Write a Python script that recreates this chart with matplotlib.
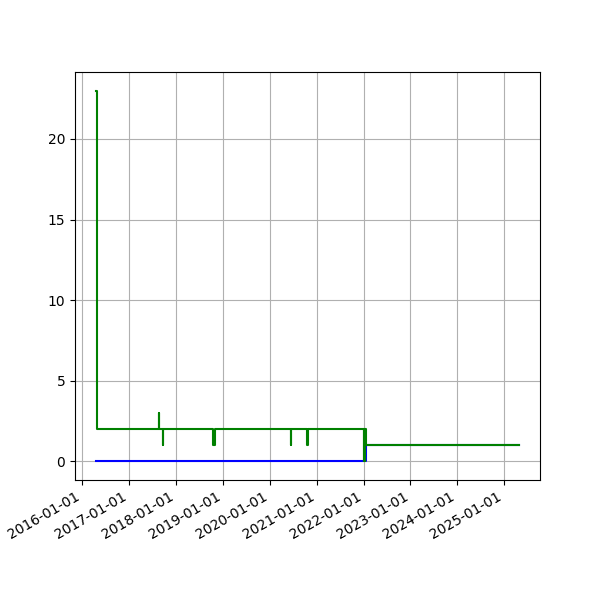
import pandas as pd
import matplotlib
matplotlib.use("Agg")
import matplotlib.pyplot as plt
import matplotlib.dates as mdates

# green series: change points (steps-post)
green_dates = ["2016-04-18", "2016-04-25", "2017-08-19", "2017-08-24", "2017-09-20",
               "2017-09-24", "2018-10-14", "2018-11-04", "2020-06-12", "2020-06-17",
               "2020-10-20", "2020-10-25", "2022-01-03", "2022-01-06", "2022-01-09",
               "2022-01-12", "2022-01-16", "2025-04-25"]
green_vals = [23, 2, 3, 2, 1, 2, 1, 2, 1, 2, 1, 2, 0, 2, 0, 2, 1, 1]

# blue series
blue_dates = ["2016-04-18", "2022-01-16", "2025-04-25"]
blue_vals = [0, 1, 1]

fig, ax = plt.subplots(figsize=(6, 6), dpi=100)
ax.plot(pd.to_datetime(blue_dates), blue_vals, color="blue", drawstyle="steps-post")
ax.plot(pd.to_datetime(green_dates), green_vals, color="green", drawstyle="steps-post")

ax.xaxis.set_major_locator(mdates.YearLocator())
ax.xaxis.set_major_formatter(mdates.DateFormatter("%Y-%m-%d"))
ax.grid(True)
fig.autofmt_xdate()

fig.savefig("out.png")
